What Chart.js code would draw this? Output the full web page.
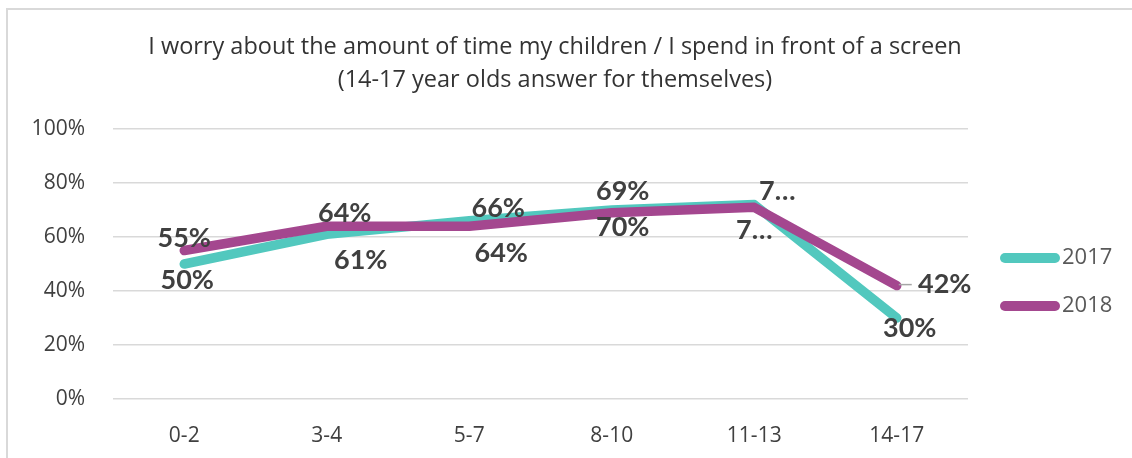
<!DOCTYPE html>
<html>
<head>
<meta charset="utf-8">
<script src="https://cdn.jsdelivr.net/npm/chart.js@4.4.1/dist/chart.umd.min.js"></script>
<style>
  html, body { margin: 0; padding: 0; background: #fff; }
  #wrap { position: relative; width: 1132px; height: 458px; }
</style>
</head>
<body>
<div id="wrap"><canvas id="screenChart"></canvas></div>
<script>
// data
var ageGroups = ["0-2", "3-4", "5-7", "8-10", "11-13", "14-17"];
var worry2017 = [50, 61, 66, 70, 72, 30];
var worry2018 = [55, 64, 64, 69, 71, 42];
var yTicks = [0, 20, 40, 60, 80, 100];
var titleLines = [
    "I worry about the amount of time my children / I spend in front of a screen",
    "(14-17 year olds answer for themselves)"
];

var teal = "#52c8be";
var purple = "#a4478f";
var textGrey = "#404040";
var fontName = "Open Sans";

// where each data label sits relative to its point (dx, dy), per series
var labelOffsets = [
    [[3, 16], [34, 26], [29, -13], [11, 17], [23, -13], [13, 10]],
    [[0, -12], [18, -13], [32, 27], [11, -21], [0, 23], [48, -1]]
];
// the 11-13 labels are clipped in the original
var clipped = [false, false, false, false, true, false];

var chartDecor = {
    id: "chartDecor",
    beforeDraw: function (chart) {
        var ctx = chart.ctx;
        ctx.save();
        ctx.fillStyle = "#ffffff";
        ctx.fillRect(0, 0, chart.width, chart.height);
        ctx.strokeStyle = "#d9d9d9";
        ctx.lineWidth = 2;
        ctx.beginPath();
        ctx.moveTo(7, chart.height);
        ctx.lineTo(7, 9);
        ctx.lineTo(chart.width, 9);
        ctx.stroke();
        ctx.restore();
    },
    afterDatasetsDraw: function (chart) {
        var ctx = chart.ctx;
        ctx.save();
        ctx.font = "bold 27px Lato";
        ctx.fillStyle = textGrey;
        ctx.textAlign = "center";
        ctx.textBaseline = "middle";
        chart.data.datasets.forEach(function (ds, di) {
            var meta = chart.getDatasetMeta(di);
            meta.data.forEach(function (pt, i) {
                var off = labelOffsets[di][i];
                var txt = clipped[i] ? String(ds.data[i]).charAt(0) + "\u2026" : ds.data[i] + "%";
                if (di === 1 && i === ds.data.length - 1) {
                    // leader line to the pulled-out label
                    ctx.strokeStyle = "#a6a6a6";
                    ctx.lineWidth = 1.5;
                    ctx.beginPath();
                    ctx.moveTo(pt.x + 2, pt.y - 1);
                    ctx.lineTo(pt.x + 15, pt.y - 1);
                    ctx.stroke();
                }
                ctx.fillText(txt, pt.x + off[0], pt.y + off[1]);
            });
        });
        ctx.restore();
    },
    afterDraw: function (chart) {
        var ctx = chart.ctx;
        ctx.save();
        // title
        ctx.font = "23.5px " + fontName;
        ctx.fillStyle = "#333333";
        ctx.textAlign = "center";
        ctx.textBaseline = "middle";
        ctx.fillText(titleLines[0], 555, 47);
        ctx.fillText(titleLines[1], 555, 80);
        // legend
        var rows = [258, 306];
        ctx.font = "22px " + fontName;
        chart.data.datasets.forEach(function (ds, di) {
            var y = rows[di];
            ctx.strokeStyle = ds.borderColor;
            ctx.lineWidth = 10;
            ctx.lineCap = "round";
            ctx.beginPath();
            ctx.moveTo(1005, y);
            ctx.lineTo(1055, y);
            ctx.stroke();
            ctx.fillStyle = "#595959";
            ctx.textAlign = "left";
            ctx.fillText(ds.label, 1062, y);
        });
        ctx.restore();
    }
};

var ctx = document.getElementById("screenChart").getContext("2d");

var screenChart = new Chart(ctx, {
    type: "line",
    data: {
        labels: ageGroups,
        datasets: [
            {
                label: "2017",
                data: worry2017,
                borderColor: teal,
                backgroundColor: teal,
                borderWidth: 9.5,
                borderCapStyle: "round",
                borderJoinStyle: "round",
                pointRadius: 0,
                tension: 0,
                order: 1
            },
            {
                label: "2018",
                data: worry2018,
                borderColor: purple,
                backgroundColor: purple,
                borderWidth: 9.5,
                borderCapStyle: "round",
                borderJoinStyle: "round",
                pointRadius: 0,
                tension: 0,
                order: 0
            }
        ]
    },
    options: {
        responsive: true,
        maintainAspectRatio: false,
        animation: false,
        layout: { padding: { top: 129, right: 164, bottom: 0, left: 0 } },
        plugins: {
            legend: { display: false },
            title: { display: false },
            tooltip: { enabled: false }
        },
        scales: {
            x: {
                offset: true,
                grid: { display: false, drawTicks: false },
                border: { display: false },
                ticks: {
                    color: textGrey,
                    font: { family: fontName, size: 21 },
                    padding: 24,
                    maxRotation: 0
                },
                afterFit: function (scale) { scale.height = 59; }
            },
            y: {
                min: 0,
                max: 100,
                grid: { color: "#d9d9d9", lineWidth: 1.5, drawTicks: false },
                border: { display: false },
                ticks: {
                    color: textGrey,
                    font: { family: fontName, size: 21 },
                    padding: 28,
                    callback: function (v) { return v + "%"; }
                },
                afterBuildTicks: function (scale) {
                    scale.ticks = yTicks.map(function (v) { return { value: v }; });
                },
                afterFit: function (scale) { scale.width = 113; }
            }
        }
    },
    plugins: [chartDecor]
});
</script>
</body>
</html>
